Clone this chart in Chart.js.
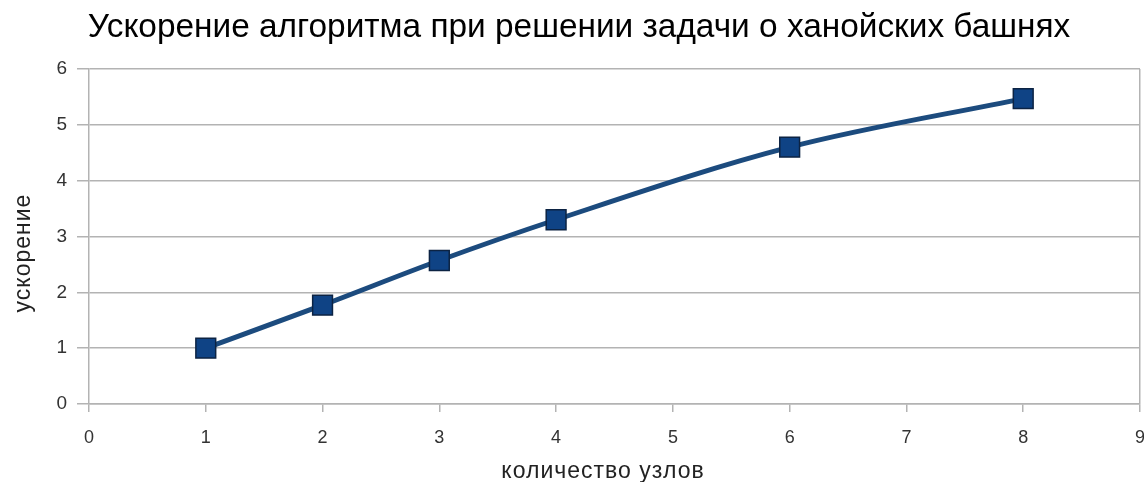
<!DOCTYPE html>
<html>
<head>
<meta charset="utf-8">
<script src="https://cdn.jsdelivr.net/npm/chart.js@4/dist/chart.umd.min.js"></script>
<style>
  html, body { margin: 0; padding: 0; background: #ffffff; }
  #wrap { width: 1144px; height: 482px; position: relative; }
</style>
</head>
<body>
<div id="wrap"><canvas id="chart" width="1144" height="482"></canvas></div>
<script>
// Speed-up of the Tower of Hanoi solver versus number of nodes
const nodeCounts = [1, 2, 3, 4, 6, 8];
const speedup = [1, 1.77, 2.57, 3.3, 4.6, 5.47];
const xTicks = [0, 1, 2, 3, 4, 5, 6, 7, 8, 9];
const yTicks = [0, 1, 2, 3, 4, 5, 6];

const chartTitle = 'Ускорение алгоритма при решении задачи о ханойских башнях';
const xTitle = 'количество узлов';
const yTitle = 'ускорение';

const FONT = '"Liberation Sans", Arial, sans-serif';
const GRID = '#b3b3b3';

// Title and axis captions drawn on the canvas
const captions = {
  id: 'captions',
  afterDraw(chart) {
    const { ctx } = chart;
    ctx.save();
    ctx.fillStyle = '#000';
    ctx.textAlign = 'center';
    ctx.textBaseline = 'alphabetic';
    ctx.font = '33.4px ' + FONT;
    ctx.fillText(chartTitle, 579, 37);

    ctx.fillStyle = '#222';
    ctx.font = '23px ' + FONT;
    ctx.letterSpacing = '1px';
    ctx.fillText(xTitle, 603, 478);

    ctx.translate(30, 253);
    ctx.rotate(-Math.PI / 2);
    ctx.fillText(yTitle, 0, 0);
    ctx.restore();
  }
};

const points = nodeCounts.map((x, i) => ({ x: x, y: speedup[i] }));

new Chart(document.getElementById('chart'), {
  type: 'scatter',
  data: {
    datasets: [{
      data: points,
      showLine: true,
      borderColor: '#1c4b7e',
      borderWidth: 5,
      tension: 0.4,
      cubicInterpolationMode: 'monotone',
      pointStyle: 'rect',
      pointRadius: 14,
      pointHoverRadius: 14,
      pointBackgroundColor: '#0f4385',
      pointBorderColor: '#0c2343',
      pointBorderWidth: 1.5
    }]
  },
  options: {
    responsive: false,
    animation: false,
    events: [],
    layout: { autoPadding: false, padding: { top: 69, right: 4, bottom: 0, left: 0 } },
    plugins: {
      legend: { display: false },
      title: { display: false },
      tooltip: { enabled: false }
    },
    scales: {
      x: {
        type: 'linear',
        min: 0,
        max: 9,
        afterBuildTicks(scale) { scale.ticks = xTicks.map(v => ({ value: v })); },
        afterFit(scale) {
          scale.height = 78;
          scale.paddingLeft = 0;
          scale.paddingRight = 0;
        },
        ticks: {
          color: '#333',
          font: { family: FONT, size: 18, lineHeight: 2.55 },
          padding: 3,
          maxRotation: 0
        },
        grid: {
          drawOnChartArea: true,
          color: ctx => (ctx.tick && ctx.tick.value === 9 ? GRID : 'rgba(0,0,0,0)'),
          tickColor: GRID,
          tickLength: 8,
          lineWidth: 1.5
        },
        border: { display: true, color: GRID, width: 1.5 }
      },
      y: {
        type: 'linear',
        min: 0,
        max: 6,
        afterBuildTicks(scale) { scale.ticks = yTicks.map(v => ({ value: v })); },
        afterFit(scale) {
          scale.width = 89;
          scale.paddingTop = 0;
          scale.paddingBottom = 0;
        },
        ticks: {
          color: '#333',
          font: { family: FONT, size: 19 },
          padding: 10
        },
        grid: {
          color: GRID,
          tickColor: GRID,
          tickLength: 12,
          lineWidth: 1.5
        },
        border: { display: true, color: GRID, width: 1.5 }
      }
    }
  },
  plugins: [captions]
});
</script>
</body>
</html>
